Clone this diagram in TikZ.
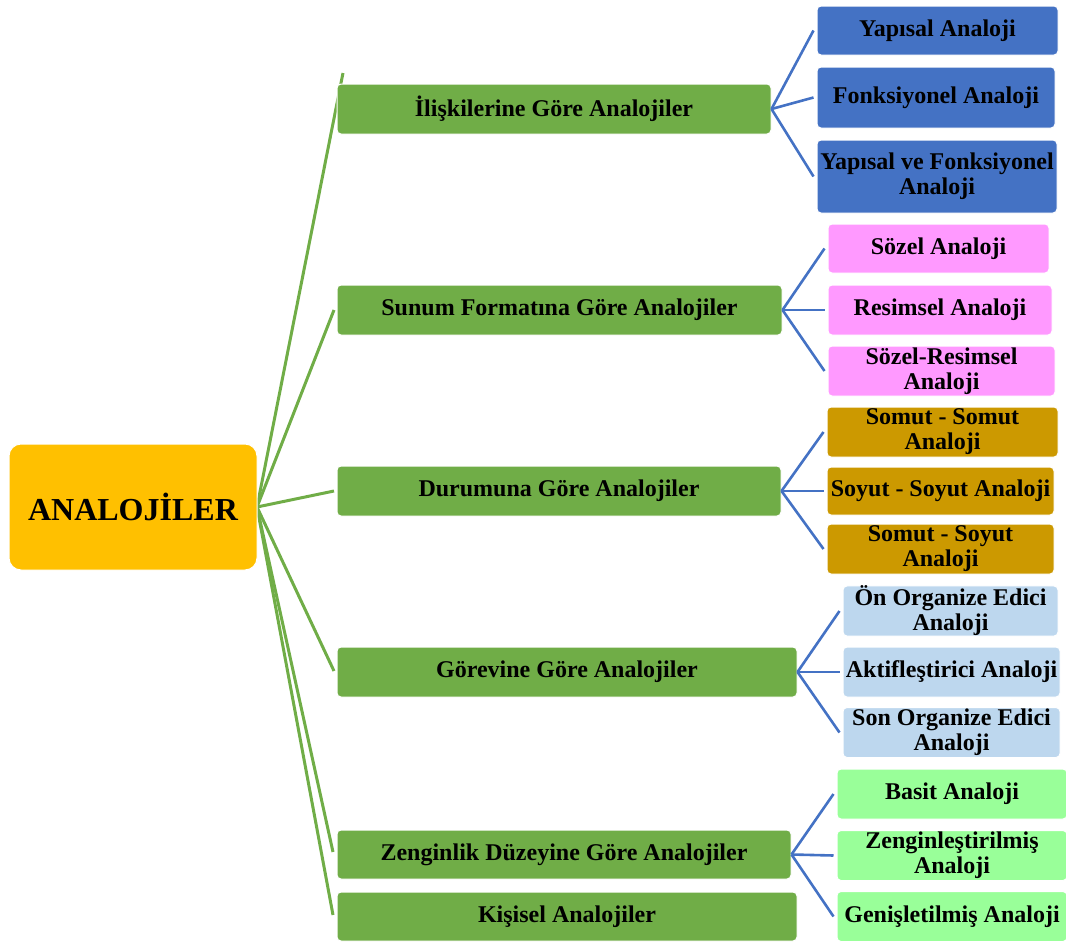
\documentclass[tikz,border=0pt]{standalone}
\usepackage{fontspec}
\setmainfont{Liberation Serif}
\definecolor{cRoot}{HTML}{FFC000}
\definecolor{cGreen}{HTML}{70AD47}
\definecolor{cBlue}{HTML}{4472C4}
\definecolor{cPink}{HTML}{FF99FF}
\definecolor{cGold}{HTML}{CC9900}
\definecolor{cLBlue}{HTML}{BDD7EE}
\definecolor{cLGreen}{HTML}{99FF99}
\begin{document}
\begin{tikzpicture}[x=1pt,y=-1pt,
  box/.style={draw=white, line width=1pt, rounded corners=4pt, inner sep=0pt, align=center,
    font=\fontsize{24}{25}\selectfont\bfseries, text=black},
  rootbox/.style={box, fill=cRoot, rounded corners=12pt, font=\fontsize{32}{36}\selectfont\bfseries},
  gbox/.style={box, fill=cGreen},
  bbox/.style={box, fill=cBlue},
  pbox/.style={box, fill=cPink},
  obox/.style={box, fill=cGold},
  lbbox/.style={box, fill=cLBlue},
  lgbox/.style={box, fill=cLGreen},
  gline/.style={draw=cGreen, line width=3pt},
  bline/.style={draw=cBlue, line width=2.6pt}]
\useasboundingbox (0,0) rectangle (1066,945);

% connectors (root to categories)
\coordinate (e1) at (343,73);
\coordinate (rs) at (257,507);
\coordinate (e2) at (334,310);
\coordinate (e3) at (334,491);
\coordinate (e4) at (334,671);
\coordinate (e5) at (333,852);
\coordinate (e6) at (333,915);
\foreach \e in {e1,e2,e3,e4,e5,e6} \draw[gline] (rs) -- (\e);

% root
\node[rootbox, minimum width=248, minimum height=126] (root) at (133,507) {ANALOJİLER};

% categories
\node[gbox, minimum width=434, minimum height=50] (g1) at (554,109) {İlişkilerine Göre Analojiler};
\node[gbox, minimum width=445, minimum height=50] (g2) at (559.5,310) {Sunum Formatına Göre Analojiler};
\node[gbox, minimum width=444, minimum height=50] (g3) at (559,491) {Durumuna Göre Analojiler};
\node[gbox, minimum width=460, minimum height=50] (g4) at (567,672) {Görevine Göre Analojiler};
\node[gbox, minimum width=454, minimum height=49] (g5) at (564,854.5) {Zenginlik Düzeyine Göre Analojiler};
\node[gbox, minimum width=460, minimum height=49] (g6) at (567,916.5) {Kişisel Analojiler};

% blue group
\node[bbox, minimum width=241, minimum height=49] (b1) at (937.5,30.5) {Yapısal Analoji};
\node[bbox, minimum width=238, minimum height=61] (b2) at (936,97.5) {Fonksiyonel Analoji};
\node[bbox, minimum width=240, minimum height=73] (b3) at (937,176.5) {Yapısal ve Fonksiyonel\\Analoji};

% pink group
\node[pbox, minimum width=221, minimum height=49] (p1) at (938.5,248.5) {Sözel Analoji};
\node[pbox, minimum width=224, minimum height=50] (p2) at (940,310) {Resimsel Analoji};
\node[pbox, minimum width=227, minimum height=50] (p3) at (941.5,371) {Sözel-Resimsel\\Analoji};

% gold group
\node[obox, minimum width=231, minimum height=50] (o1) at (942.5,432) {Somut - Somut\\Analoji};
\node[obox, minimum width=227, minimum height=48] (o2) at (940.5,491) {Soyut - Soyut Analoji};
\node[obox, minimum width=227, minimum height=50] (o3) at (940.5,549) {Somut - Soyut\\Analoji};

% light blue group
\node[lbbox, minimum width=215, minimum height=50] (l1) at (950.5,611) {Ön Organize Edici\\Analoji};
\node[lbbox, minimum width=217, minimum height=50] (l2) at (951.5,672) {Aktifleştirici Analoji};
\node[lbbox, minimum width=217, minimum height=50] (l3) at (951.5,732.5) {Son Organize Edici\\Analoji};

% light green group
\node[lgbox, minimum width=230, minimum height=50] (n1) at (952,794) {Basit Analoji};
\node[lgbox, minimum width=230, minimum height=50] (n2) at (952,855.5) {Zenginleştirilmiş\\Analoji};
\node[lgbox, minimum width=230, minimum height=50] (n3) at (952,916.5) {Genişletilmiş Analoji};

% sub connectors
\foreach \c in {b1,b2,b3} \draw[bline] (g1.east) -- ([xshift=-3pt]\c.west);
\foreach \c in {p1,p2,p3} \draw[bline] (g2.east) -- ([xshift=-3pt]\c.west);
\foreach \c in {o1,o2,o3} \draw[bline] (g3.east) -- ([xshift=-3pt]\c.west);
\foreach \c in {l1,l2,l3} \draw[bline] (g4.east) -- ([xshift=-3pt]\c.west);
\foreach \c in {n1,n2,n3} \draw[bline] (g5.east) -- ([xshift=-3pt]\c.west);
\end{tikzpicture}
\end{document}
